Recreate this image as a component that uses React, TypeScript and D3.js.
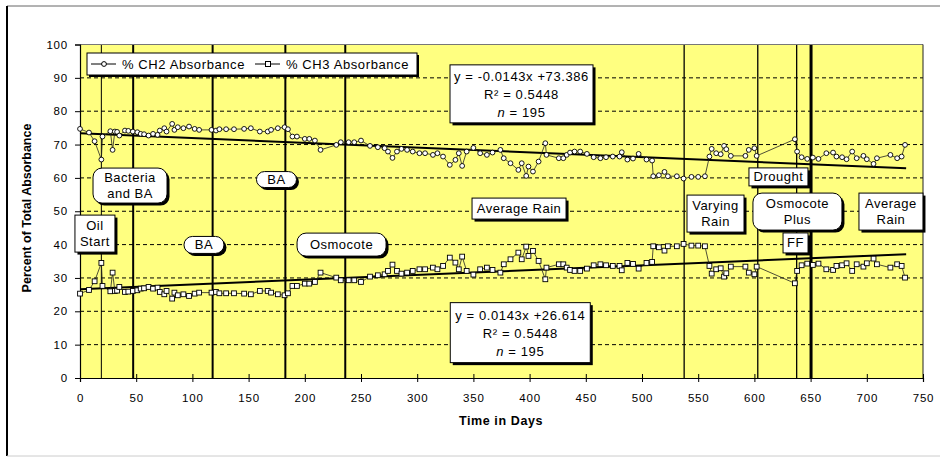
import React, { useEffect, useRef } from 'react';
import * as d3 from 'd3';

// days of each reading
const days = [
  0, 8, 13, 19, 20, 27, 29, 31, 33, 35, 40, 43, 47, 51, 54, 57, 61, 65, 69, 71,
  75, 77, 82, 84, 87, 92, 97, 102, 106, 117, 121, 124, 130, 137, 146, 152, 160, 167, 170, 176,
  182, 185, 189, 193, 200, 204, 209, 214, 228, 232, 239, 244, 250, 258, 265, 271, 274, 278, 282, 286,
  291, 296, 302, 307, 314, 318, 323, 329, 334, 337, 340, 344, 350, 356, 362, 367, 374, 377, 383, 390,
  393, 397, 399, 403, 408, 414, 415, 426, 430, 433, 436, 440, 445, 451, 457, 463, 468, 474, 480, 482,
  487, 492, 497, 504, 509, 510, 515, 520, 523, 531, 537, 544, 550, 556, 560, 562, 566, 570, 573, 575,
  579, 592, 595, 600, 602, 636, 638, 642, 647, 652, 657, 664, 670, 673, 678, 682, 687, 691, 697, 700,
  706, 709, 721, 727, 731, 734,
];

// % CH2 absorbance
const ch2 = [
  74.7, 73.6, 71.0, 65.5, 72.4, 74.0, 68.4, 73.9, 73.8, 72.7, 74.2, 74.1, 73.9, 73.7, 73.2, 73.1, 72.7, 73.2, 72.9, 74.2,
  74.9, 73.9, 76.2, 74.4, 75.2, 74.9, 75.4, 74.7, 74.4, 74.4, 74.2, 74.6, 74.6, 74.6, 74.7, 74.9, 73.9, 73.9, 74.4, 74.9,
  75.2, 74.6, 72.4, 72.4, 71.7, 71.7, 71.2, 68.4, 69.9, 70.7, 70.7, 70.7, 71.2, 69.6, 69.2, 68.9, 67.9, 66.0, 67.9, 68.7,
  68.4, 67.9, 67.4, 67.4, 66.9, 67.4, 66.4, 63.9, 65.4, 67.4, 63.6, 67.9, 69.0, 67.4, 66.9, 67.6, 68.4, 65.9, 64.4, 62.4,
  64.4, 60.6, 63.4, 61.9, 64.9, 70.4, 66.9, 65.9, 65.9, 66.9, 67.6, 67.9, 67.9, 67.2, 66.2, 65.9, 66.2, 66.4, 66.4, 67.7,
  65.5, 65.8, 67.2, 65.5, 65.2, 60.5, 60.8, 61.8, 60.5, 60.5, 59.8, 60.3, 60.3, 60.5, 66.4, 68.7, 67.4, 67.1, 69.6, 68.6,
  66.6, 66.6, 68.4, 68.9, 66.6, 71.6, 67.9, 66.2, 65.7, 66.1, 65.7, 67.4, 67.6, 66.4, 66.2, 65.6, 67.9, 65.9, 66.6, 65.6,
  64.2, 65.9, 66.9, 65.9, 66.4, 69.9,
];

// % CH3 absorbance
const ch3 = [
  25.3, 26.4, 29.0, 34.5, 27.6, 26.0, 31.6, 26.1, 26.2, 27.3, 25.8, 25.9, 26.1, 26.3, 26.8, 26.9, 27.3, 26.8, 27.1, 25.8,
  25.1, 26.1, 23.8, 25.6, 24.8, 25.1, 24.6, 25.3, 25.6, 25.6, 25.8, 25.4, 25.4, 25.4, 25.3, 25.1, 26.1, 26.1, 25.6, 25.1,
  24.8, 25.4, 27.6, 27.6, 28.3, 28.3, 28.8, 31.6, 30.1, 29.3, 29.3, 29.3, 28.8, 30.4, 30.8, 31.1, 32.1, 34.0, 32.1, 31.3,
  31.6, 32.1, 32.6, 32.6, 33.1, 32.6, 33.6, 36.1, 34.6, 32.6, 36.4, 32.1, 31.0, 32.6, 33.1, 32.4, 31.6, 34.1, 35.6, 37.6,
  35.6, 39.4, 36.6, 38.1, 35.1, 29.6, 33.1, 34.1, 34.1, 33.1, 32.4, 32.1, 32.1, 32.8, 33.8, 34.1, 33.8, 33.6, 33.6, 32.3,
  34.5, 34.2, 32.8, 34.5, 34.8, 39.5, 39.2, 38.2, 39.5, 39.5, 40.2, 39.7, 39.7, 39.5, 33.6, 31.3, 32.6, 32.9, 30.4, 31.4,
  33.4, 33.4, 31.6, 31.1, 33.4, 28.4, 32.1, 33.8, 34.3, 33.9, 34.3, 32.6, 32.4, 33.6, 33.8, 34.4, 32.1, 34.1, 33.4, 34.4,
  35.8, 34.1, 33.1, 34.1, 33.6, 30.1,
];

const seriesNames = ['% CH2 Absorbance', '% CH3 Absorbance'];
const trendSlopes = [-0.0143, 0.0143];
const trendIntercepts = [73.386, 26.614];
const trendDays = [0, 735];

const yTicks = [0, 10, 20, 30, 40, 50, 60, 70, 80, 90, 100];
const xTicks = [0, 50, 100, 150, 200, 250, 300, 350, 400, 450, 500, 550, 600, 650, 700, 750];

// treatment change days and line weight
const eventDays = [19, 47.3, 118, 182.7, 236, 537.5, 603, 637.6, 650.4];
const eventWeights = [1, 2, 2, 2, 2, 1.3, 1.3, 1.3, 3];

// annotation boxes, placed in data coordinates (day, percent)
const notes = [
  { lines: ['Bacteria', 'and BA'], day: 44.5, pct: 57.7, w: 74, h: 35, round: true },
  { lines: ['BA'], day: 174.8, pct: 59.5, w: 40, h: 16, round: true },
  { lines: ['Oil', 'Start'], day: 13.3, pct: 43.3, w: 40, h: 37, round: false },
  { lines: ['BA'], day: 110.3, pct: 39.9, w: 40, h: 17, round: true },
  { lines: ['Osmocote'], day: 232.7, pct: 40.0, w: 89, h: 23, round: true },
  { lines: ['Average Rain'], day: 390.6, pct: 50.8, w: 94, h: 21, round: false },
  { lines: ['Varying', 'Rain'], day: 565.4, pct: 49.3, w: 57, h: 37, round: false },
  { lines: ['Drought'], day: 621.4, pct: 60.3, w: 59, h: 18, round: false },
  { lines: ['Osmocote', 'Plus'], day: 638.3, pct: 49.9, w: 89, h: 37, round: true },
  { lines: ['FF'], day: 636.6, pct: 40.5, w: 25, h: 20, round: false },
  { lines: ['Average', 'Rain'], day: 721.5, pct: 49.9, w: 64, h: 37, round: false },
];

const equations = [
  { lines: ['y = -0.0143x +73.386', 'R² = 0.5448', 'n = 195'], day: 392.8, pct: 85.2, w: 143, h: 58 },
  { lines: ['y = 0.0143x +26.614', 'R² = 0.5448', 'n = 195'], day: 391.7, pct: 13.6, w: 140, h: 60 },
];

const FONT = '"Liberation Sans", Arial, sans-serif';

export default function App() {
  const ref = useRef<SVGSVGElement | null>(null);

  useEffect(() => {
    const svg = d3.select(ref.current);
    svg.selectAll('*').remove();

    const W = 941, H = 458;
    const plot = { left: 80, right: 923, top: 44.5, bottom: 378 };

    const x = d3.scaleLinear().domain([0, 750]).range([plot.left, plot.right]);
    const y = d3.scaleLinear().domain([0, 100]).range([plot.bottom, plot.top]);

    svg.append('rect').attr('width', W).attr('height', H).attr('fill', '#fff');

    // outer chart frame
    svg.append('line').attr('x1', 7).attr('x2', 940).attr('y1', 6).attr('y2', 6).attr('stroke', '#666').attr('stroke-width', 1);
    svg.append('line').attr('x1', 7).attr('x2', 7).attr('y1', 6).attr('y2', 456).attr('stroke', '#000').attr('stroke-width', 2);
    svg.append('line').attr('x1', 7).attr('x2', 940).attr('y1', 456).attr('y2', 456).attr('stroke', '#ccc').attr('stroke-width', 1);

    // plot area
    svg.append('rect')
      .attr('x', plot.left).attr('y', plot.top)
      .attr('width', plot.right - plot.left).attr('height', plot.bottom - plot.top)
      .attr('fill', '#ffff80');

    // dashed gridlines
    svg.append('g')
      .selectAll('line')
      .data(yTicks.filter(t => t > 0 && t < 100))
      .enter().append('line')
      .attr('x1', plot.left).attr('x2', plot.right)
      .attr('y1', d => y(d)).attr('y2', d => y(d))
      .attr('stroke', '#000').attr('stroke-width', 1)
      .attr('stroke-dasharray', '4,3');

    // event lines
    svg.append('g')
      .selectAll('line')
      .data(eventDays)
      .enter().append('line')
      .attr('x1', d => x(d)).attr('x2', d => x(d))
      .attr('y1', plot.top).attr('y2', plot.bottom)
      .attr('stroke', '#000')
      .attr('stroke-width', (d, i) => eventWeights[i]);

    // plot border
    svg.append('line').attr('x1', plot.left).attr('x2', plot.right).attr('y1', plot.top).attr('y2', plot.top).attr('stroke', '#777');
    svg.append('line').attr('x1', plot.right).attr('x2', plot.right).attr('y1', plot.top).attr('y2', plot.bottom).attr('stroke', '#222');

    // axes
    const yAxis = svg.append('g')
      .attr('transform', `translate(${plot.left},0)`)
      .call(d3.axisLeft(y).tickValues(yTicks).tickSize(5).tickPadding(7));
    const xAxis = svg.append('g')
      .attr('transform', `translate(0,${plot.bottom})`)
      .call(d3.axisBottom(x).tickValues(xTicks).tickSize(4).tickPadding(12));
    [yAxis, xAxis].forEach(g => {
      g.select('.domain').attr('stroke', '#000').attr('stroke-width', 1.2);
      g.selectAll('.tick line').attr('stroke', '#000');
      g.selectAll('.tick text')
        .attr('font-family', FONT).attr('font-size', 11.5)
        .attr('letter-spacing', 0.8).attr('fill', '#000');
    });
    // x ticks cross the axis
    xAxis.selectAll('.tick line').attr('y1', -4).attr('y2', 4);

    // trend lines
    const trendLine = d3.line<number>().x(d => x(d));
    trendSlopes.forEach((m, i) => {
      svg.append('path')
        .datum(trendDays)
        .attr('d', trendLine.y(d => y(m * d + trendIntercepts[i])))
        .attr('fill', 'none').attr('stroke', '#000').attr('stroke-width', 2);
    });

    // series lines + markers
    const series = [ch2, ch3];
    series.forEach((vals, si) => {
      const pts = days.map((d, i) => [d, vals[i]] as [number, number]);
      svg.append('path')
        .datum(pts)
        .attr('d', d3.line().x(d => x(d[0])).y(d => y(d[1])))
        .attr('fill', 'none').attr('stroke', '#222').attr('stroke-width', 0.8);
      const g = svg.append('g');
      if (si === 0) {
        g.selectAll('circle').data(pts).enter().append('circle')
          .attr('cx', d => x(d[0])).attr('cy', d => y(d[1])).attr('r', 2.4)
          .attr('fill', '#fff').attr('stroke', '#000').attr('stroke-width', 0.9);
      } else {
        g.selectAll('rect').data(pts).enter().append('rect')
          .attr('x', d => x(d[0]) - 2.4).attr('y', d => y(d[1]) - 2.4)
          .attr('width', 4.8).attr('height', 4.8)
          .attr('fill', '#fff').attr('stroke', '#000').attr('stroke-width', 0.9);
      }
    });

    // boxes with shadow
    const drawBox = (cx: number, cy: number, w: number, h: number, r: number) => {
      svg.append('rect')
        .attr('x', cx - w / 2 + 2.5).attr('y', cy - h / 2 + 2.5)
        .attr('width', w).attr('height', h).attr('rx', r)
        .attr('fill', '#000');
      svg.append('rect')
        .attr('x', cx - w / 2).attr('y', cy - h / 2)
        .attr('width', w).attr('height', h).attr('rx', r)
        .attr('fill', '#fff').attr('stroke', '#000').attr('stroke-width', 1);
    };

    notes.forEach(n => {
      const cx = x(n.day), cy = y(n.pct);
      drawBox(cx, cy, n.w, n.h, n.round ? Math.min(9, n.h / 2) : 0);
      const lh = 16.5;
      n.lines.forEach((t, i) => {
        svg.append('text')
          .attr('x', cx).attr('y', cy - ((n.lines.length - 1) * lh) / 2 + 4.5 + i * lh)
          .attr('text-anchor', 'middle')
          .attr('font-family', FONT).attr('font-size', 13).attr('letter-spacing', 0.5)
          .text(t);
      });
    });

    equations.forEach(e => {
      const cx = x(e.day), cy = y(e.pct);
      drawBox(cx, cy, e.w, e.h, 0);
      const lh = 18;
      e.lines.forEach((t, i) => {
        const tx = svg.append('text')
          .attr('x', cx).attr('y', cy - lh + 5 + i * lh)
          .attr('text-anchor', 'middle')
          .attr('font-family', FONT).attr('font-size', 13).attr('letter-spacing', 0.6);
        if (t.startsWith('n')) {
          tx.append('tspan').attr('font-style', 'italic').text('n');
          tx.append('tspan').text(t.slice(1));
        } else {
          tx.text(t);
        }
      });
    });

    // legend
    const lg = svg.append('g');
    lg.append('rect').attr('x', 89).attr('y', 55).attr('width', 330).attr('height', 22).attr('fill', '#000');
    lg.append('rect').attr('x', 87).attr('y', 53).attr('width', 330).attr('height', 22)
      .attr('fill', '#fff').attr('stroke', '#000');
    const legendX = [91, 255];
    seriesNames.forEach((name, i) => {
      const lx = legendX[i];
      lg.append('line').attr('x1', lx).attr('x2', lx + 25).attr('y1', 64).attr('y2', 64)
        .attr('stroke', '#000').attr('stroke-width', 1);
      if (i === 0) {
        lg.append('circle').attr('cx', lx + 13).attr('cy', 64).attr('r', 2.4)
          .attr('fill', '#fff').attr('stroke', '#000');
      } else {
        lg.append('rect').attr('x', lx + 10.5).attr('y', 61.5).attr('width', 5).attr('height', 5)
          .attr('fill', '#fff').attr('stroke', '#000');
      }
      lg.append('text').attr('x', lx + 31).attr('y', 69)
        .attr('font-family', FONT).attr('font-size', 13).attr('letter-spacing', 0.6)
        .text(name);
    });

    // axis titles
    svg.append('text')
      .attr('transform', 'translate(31,208) rotate(-90)')
      .attr('text-anchor', 'middle')
      .attr('font-family', FONT).attr('font-size', 12.5).attr('font-weight', 'bold')
      .text('Percent of Total Absorbance');
    svg.append('text')
      .attr('x', 501).attr('y', 425)
      .attr('text-anchor', 'middle')
      .attr('font-family', FONT).attr('font-size', 12.5).attr('font-weight', 'bold').attr('letter-spacing', 0.6)
      .text('Time in Days');
  }, []);

  return (
    <svg
      ref={ref}
      width={941}
      height={458}
      style={{ position: 'absolute', left: 0, top: 0, display: 'block' }}
    />
  );
}
